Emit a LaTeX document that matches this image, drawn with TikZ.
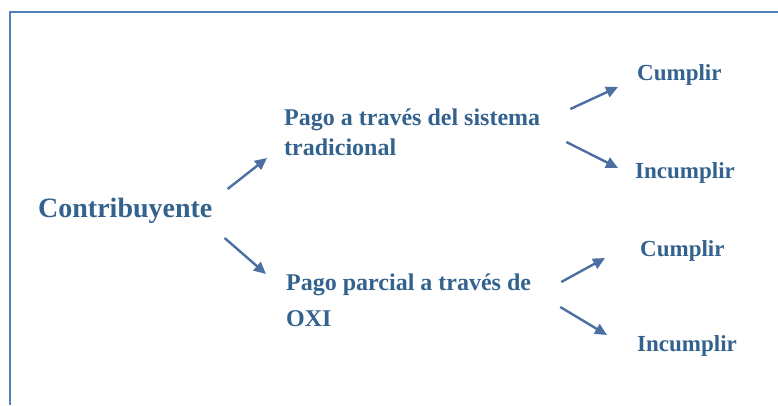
\documentclass[tikz,border=0pt]{standalone}
\usepackage{fontspec}
\setmainfont{Liberation Serif}
\usetikzlibrary{arrows.meta}
\definecolor{txtblue}{HTML}{33628F}
\definecolor{arrblue}{HTML}{4A6FA0}
\definecolor{frameblue}{HTML}{4F81BD}
\tikzset{
	arr/.style={arrblue,line width=2.4pt,-{Triangle[length=12pt,width=11pt]}},
	big/.style={txtblue,inner sep=0pt,anchor=west,font=\bfseries\fontsize{28}{30}\selectfont},
	mid/.style={txtblue,inner sep=0pt,anchor=west,align=left,font=\bfseries\fontsize{24}{30}\selectfont},
	small/.style={txtblue,inner sep=0pt,anchor=west,font=\bfseries\fontsize{23}{24}\selectfont}
}
\begin{document}
\begin{tikzpicture}[x=1pt,y=-1pt]
	\useasboundingbox (0,0) rectangle (778,405);
	\draw[frameblue,line width=2.5pt] (10,405) -- (10,12) -- (778,12);

	\node[big] (cont) at (38,211) {Contribuyente};
	\node[mid] (trad) at (284,132) {Pago a través del sistema\\tradicional};
	\node[mid,font=\bfseries\fontsize{24}{36}\selectfont] (oxi) at (286,300) {Pago parcial a través de\\OXI};
	\node[small] (cumA) at (637,75) {Cumplir};
	\node[small] (incA) at (635,173) {Incumplir};
	\node[small] (cumB) at (640,251) {Cumplir};
	\node[small] (incB) at (637,346) {Incumplir};

	\draw[arr] ([shift={(15,-22)}]cont.east) -- ([shift={(-17,26)}]trad.west);
	\draw[arr] ([shift={(12,27)}]cont.east) -- ([shift={(-20,-26)}]oxi.west);
	\draw[arr] ([shift={(30,-23)}]trad.east) -- ([shift={(-19,12)}]cumA.west);
	\draw[arr] ([shift={(26,10)}]trad.east) -- ([shift={(-17,-5)}]incA.west);
	\draw[arr] ([shift={(30,-18)}]oxi.east) -- ([shift={(-35,7)}]cumB.west);
	\draw[arr] ([shift={(29,7)}]oxi.east) -- ([shift={(-30,-11)}]incB.west);
\end{tikzpicture}
\end{document}
